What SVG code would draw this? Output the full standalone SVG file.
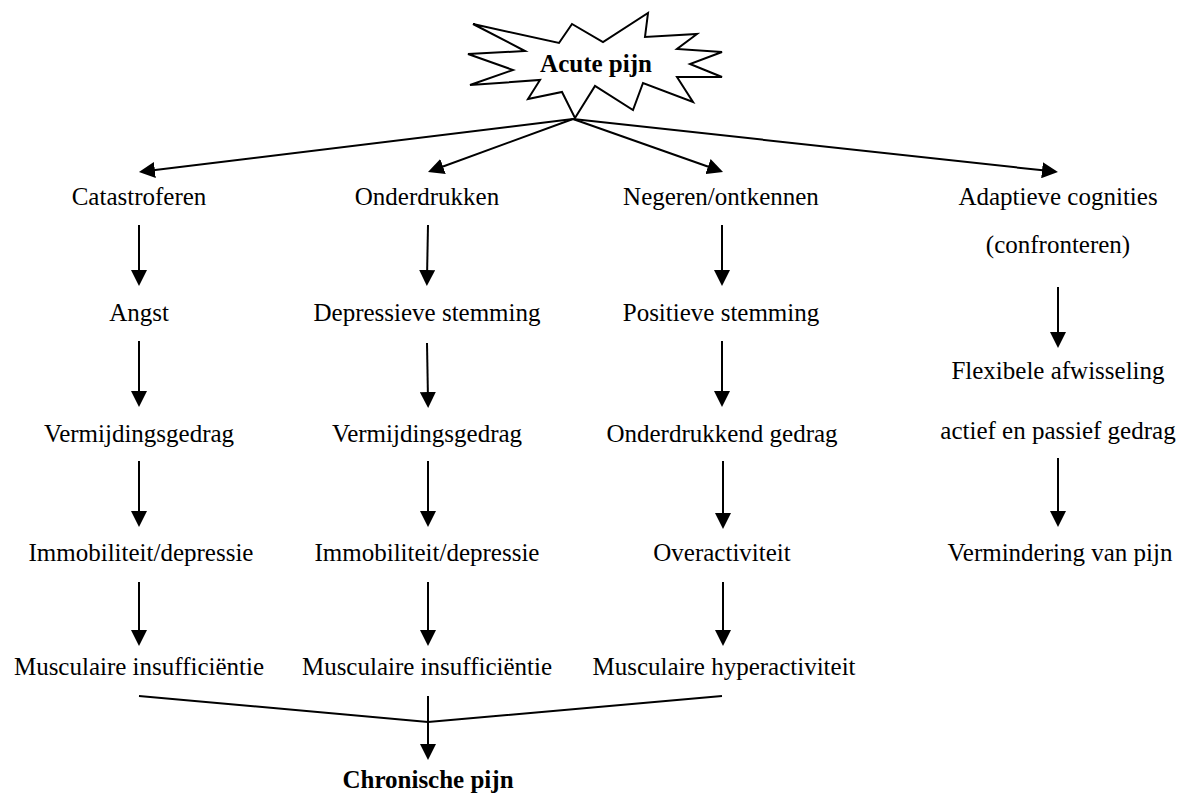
<svg xmlns="http://www.w3.org/2000/svg" width="1181" height="796" viewBox="0 0 1181 796">
<style>
text{font-family:"Liberation Serif","Times New Roman",serif;font-size:25px;fill:#000;text-anchor:middle}
.b{font-weight:bold}
.ln{stroke:#000;stroke-width:2;fill:none}
.ar{stroke:#000;stroke-width:2;fill:none;marker-end:url(#ah)}
</style>
<defs>
<marker id="ah" viewBox="0 0 16 16" refX="8" refY="8" markerWidth="16" markerHeight="16" markerUnits="userSpaceOnUse" orient="auto">
<path d="M0,0 L16,8 L0,16 z" fill="#000"/>
</marker>
</defs>
<rect width="1181" height="796" fill="#fff"/>
<g id="acute">
<polygon class="ln" points="473,24 559,43 572,24 603,42 648,13 645,37 697,34 677,49 722,52 690,64 722,77 677,77 693,102 643,83 633,110 595,86 575,118 562,92 528,99 540,80 470,85 513,70 468,54 525,51"/>
<text class="b" x="596" y="72">Acute pijn</text>
</g>
<g id="connectors">
<line class="ar" x1="573" y1="119" x2="146.9" y2="171"/>
<line class="ar" x1="573" y1="119" x2="435.5" y2="169.3"/>
<line class="ar" x1="573" y1="119" x2="715.5" y2="169.3"/>
<line class="ar" x1="573" y1="119" x2="1050" y2="171.1"/>
<line class="ar" x1="139" y1="225" x2="139" y2="278"/>
<line class="ar" x1="139" y1="341" x2="139" y2="399"/>
<line class="ar" x1="139" y1="461" x2="139" y2="519"/>
<line class="ar" x1="139" y1="582" x2="139" y2="638"/>
<line class="ar" x1="428" y1="225" x2="427" y2="278"/>
<line class="ar" x1="427" y1="343" x2="428" y2="400"/>
<line class="ar" x1="428" y1="461" x2="428" y2="519"/>
<line class="ar" x1="428" y1="582" x2="428" y2="638"/>
<line class="ar" x1="722" y1="225" x2="722" y2="278"/>
<line class="ar" x1="722" y1="341" x2="722" y2="399"/>
<line class="ar" x1="723" y1="461" x2="723" y2="521"/>
<line class="ar" x1="723" y1="582" x2="723" y2="638"/>
<line class="ar" x1="1058" y1="287" x2="1058" y2="340"/>
<line class="ar" x1="1058" y1="458" x2="1058" y2="519"/>
<polyline class="ln" points="139,696 428,722 722,696"/>
<line class="ar" x1="428" y1="696" x2="428" y2="752"/>
</g>
<g id="catastroferen"><text x="139" y="205">Catastroferen</text></g>
<g id="angst"><text x="139" y="321">Angst</text></g>
<g id="vermijdingsgedrag1"><text x="139" y="442">Vermijdingsgedrag</text></g>
<g id="immobiliteit1"><text x="141" y="561">Immobiliteit/depressie</text></g>
<g id="musculaire1"><text x="139" y="675">Musculaire insufficiëntie</text></g>
<g id="onderdrukken"><text x="427" y="205">Onderdrukken</text></g>
<g id="depressieve"><text x="427" y="321">Depressieve stemming</text></g>
<g id="vermijdingsgedrag2"><text x="427" y="442">Vermijdingsgedrag</text></g>
<g id="immobiliteit2"><text x="427" y="561">Immobiliteit/depressie</text></g>
<g id="musculaire2"><text x="427" y="675">Musculaire insufficiëntie</text></g>
<g id="negeren"><text x="721" y="205">Negeren/ontkennen</text></g>
<g id="positieve"><text x="721" y="321">Positieve stemming</text></g>
<g id="onderdrukkend"><text x="722" y="442">Onderdrukkend gedrag</text></g>
<g id="overactiviteit"><text x="722" y="561">Overactiviteit</text></g>
<g id="hyperactiviteit"><text x="724" y="675">Musculaire hyperactiviteit</text></g>
<g id="adaptieve"><text x="1058" y="205">Adaptieve cognities</text><text x="1058" y="253">(confronteren)</text></g>
<g id="flexibele"><text x="1058" y="379">Flexibele afwisseling</text><text x="1058" y="439">actief en passief gedrag</text></g>
<g id="vermindering"><text x="1060" y="561">Vermindering van pijn</text></g>
<g id="chronisch"><text class="b" x="428" y="788">Chronische pijn</text></g>
</svg>
